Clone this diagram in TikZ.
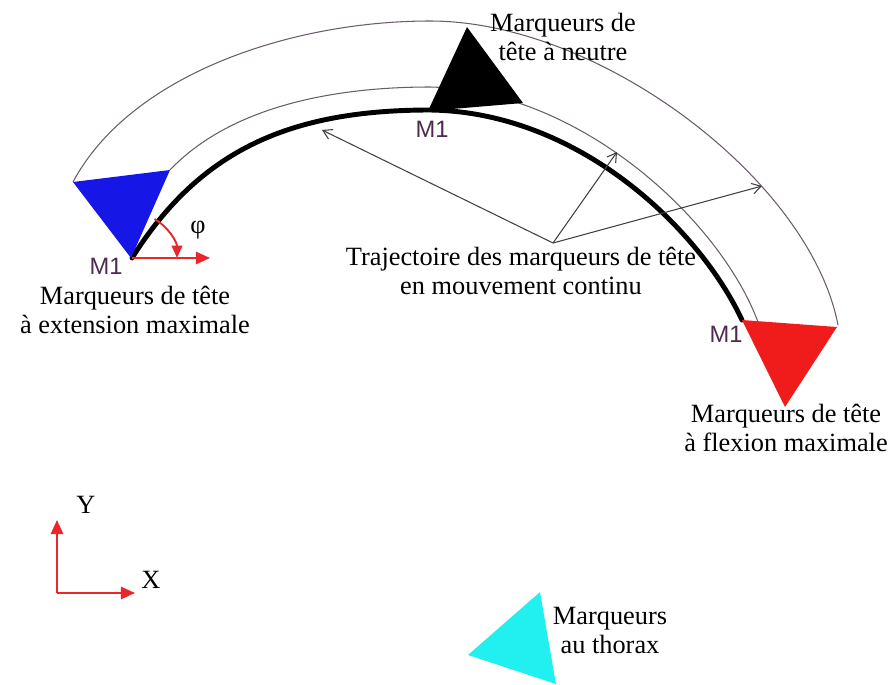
\documentclass[tikz,border=0pt]{standalone}
\usepackage{fontspec}
\setmainfont{Liberation Serif}
\newfontfamily\mksans{Liberation Sans}
\usepackage{tikz}
\usetikzlibrary{arrows.meta}
\usepackage{xcolor}
\definecolor{mkBlue}{HTML}{1616E6}
\definecolor{mkRed}{HTML}{F01C1C}
\definecolor{mkCyan}{HTML}{22F0F0}
\definecolor{axRed}{HTML}{E8262E}
\definecolor{mLabel}{HTML}{4E2A52}
\definecolor{guide}{HTML}{6A5C6A}

\begin{document}
\begin{tikzpicture}[x=0.02cm, y=-0.02cm,
  lbl/.style={align=center, font=\fontsize{15}{16.5}\selectfont},
  mone/.style={text=mLabel, font=\mksans\fontsize{13.5}{13.5}\selectfont},
  guideline/.style={guide, line width=0.6pt},
  pointer/.style={black!75, line width=0.6pt, -{Straight Barb[length=5pt,width=6pt]}},
  redarrow/.style={axRed, line width=1.1pt, -{Triangle[length=8pt,width=7pt]}}]
\useasboundingbox (0,0) rectangle (890,684);
% envelopes of the marker triangles
\draw[guideline] (73,182) .. controls (130,75) and (290,21) .. (430,21)
  .. controls (600,21) and (810,180) .. (838,325);
\draw[guideline] (170,170) .. controls (225,112) and (320,87) .. (430,87)
  .. controls (580,90) and (720,220) .. (758,322);
% trajectory of M1
\draw[line width=2.8pt, line cap=round] (132,258) .. controls (200,150) and (290,110) .. (430,110)
  .. controls (580,112) and (700,230) .. (742,320);
% markers
\fill[mkBlue] (73,182) -- (170,170) -- (131,258) -- cycle;
\fill[black] (467,27) -- (523,103) -- (428,111) -- cycle;
\fill[mkRed] (742,320) -- (837,327) -- (785,407) -- cycle;
\fill[mkCyan] (540,592) -- (556,684) -- (468,655) -- cycle;
\coordinate (m1a) at (132,258);
\node[mone] (lm1a) at (106,266) {M1};
\node[mone] (lm1b) at (432,129) {M1};
\node[mone] (lm1c) at (726,334) {M1};
% angle phi
\coordinate (phiend) at (210,258);
\draw[redarrow] (m1a) -- (phiend);
\draw[axRed, line width=1.1pt, -{Triangle[length=7pt,width=6pt]}] (m1a) ++(-60:45) arc (-60:0:45);
\node[font=\fontsize{15}{15}\selectfont] (phi) at (198,230) {φ};
% labels
\node[lbl] (ext) at (135,310) {Marqueurs de tête\\à extension maximale};
\node[lbl] (neu) at (563,37) {Marqueurs de\\tête à neutre};
\node[lbl] (flx) at (786,428) {Marqueurs de tête\\à flexion maximale};
\node[lbl] (traj) at (521,271) {Trajectoire des marqueurs de tête\\en mouvement continu};
\node[lbl] (thx) at (610,630) {Marqueurs\\au thorax};
% pointers from the trajectory label
\coordinate (src) at (553,243);
\coordinate (tipa) at (322,130);
\coordinate (tipb) at (617,152);
\coordinate (tipc) at (762,186);
\foreach \t in {tipa,tipb,tipc}
  \draw[pointer] (src) -- (\t);
% axes
\coordinate (O) at (57,593);
\coordinate (xend) at (135,593);
\coordinate (yend) at (57,520);
\draw[redarrow] (O) -- (xend);
\draw[redarrow] (O) -- (yend);
\node[lbl] (xl) at (151,580) {X};
\node[lbl] (yl) at (86,505) {Y};
\end{tikzpicture}
\end{document}
